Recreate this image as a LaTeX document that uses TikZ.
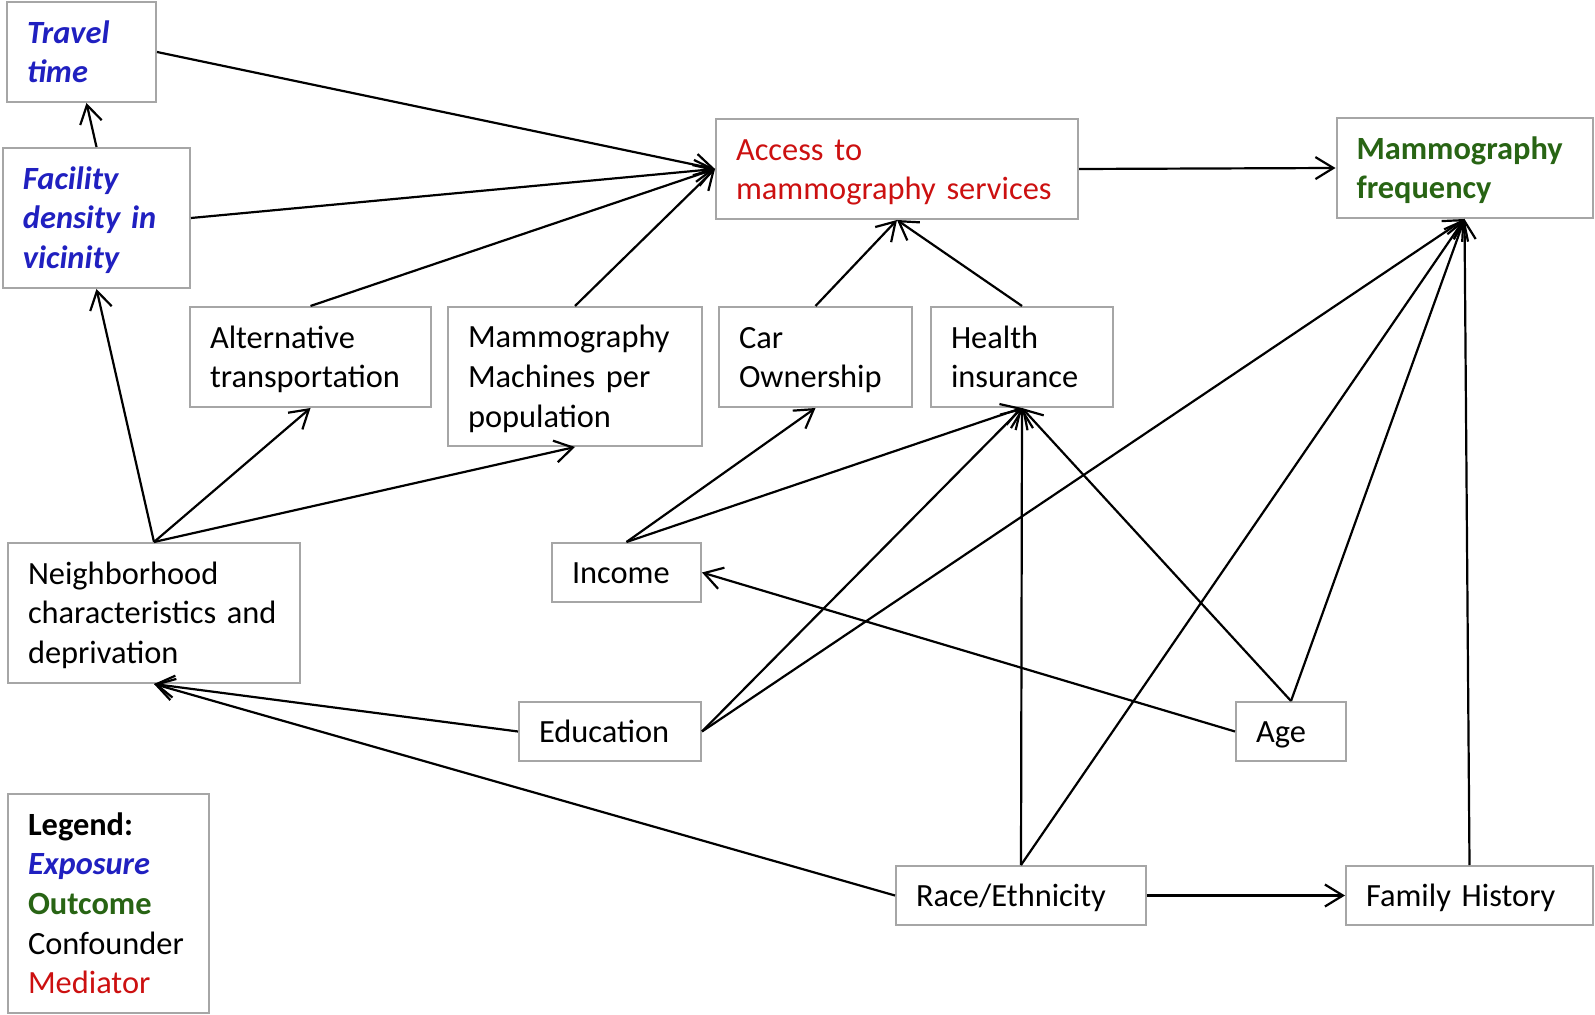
\documentclass[tikz,border=0pt]{standalone}
\usepackage{fontspec}
\setmainfont{Carlito}
\definecolor{dag_exposure}{RGB}{32, 32, 192}
\definecolor{dag_outcome}{RGB}{40, 100, 20}
\definecolor{dag_mediator}{RGB}{204, 16, 16}
\definecolor{dag_frame}{RGB}{166, 166, 166}
\newcommand{\dagstrut}{\rule[-4.4pt]{0pt}{19.8pt}}
\usepackage{tikz}
\usetikzlibrary{arrows.meta}

\begin{document}
\begin{tikzpicture}[x=0.5pt, y=-0.5pt, font=\fontsize{16.2}{19.8}\selectfont,
        box/.style={draw=dag_frame, line width=1pt, align=left,
                    inner xsep=10pt, inner ysep=0pt,
                    execute at begin node=\dagstrut, execute at end node=\dagstrut},
        arr/.style={-{Straight Barb[length=9pt, width=11pt]}, line width=1.1pt},
        expo/.style={text=dag_exposure, font=\fontsize{16.2}{19.8}\selectfont\bfseries\itshape}]
        \useasboundingbox (0, 0) rectangle (1595, 1015);
        % Exposures
        \node[box, expo, text width=54.5pt, minimum height=50pt] (trav)
          at (81.5, 52) {Travel\\time};
        \node[box, expo, text width=73.5pt, minimum height=70pt] (fac)
          at (96.5, 218) {Facility\\density~in\\vicinity};
        % Mediator and outcome
        \node[box, text=dag_mediator, text width=161pt, minimum height=50pt] (acc)
          at (897, 169) {Access~to\\mammography~services};
        \node[box, text=dag_outcome, font=\fontsize{16.2}{19.8}\selectfont\bfseries,
          text width=108pt, minimum height=50pt] (freq)
          at (1464.5, 168) {Mammography\\frequency};
        % Middle row
        \node[box, text width=100.5pt, minimum height=50pt] (alt)
          at (310.5, 357) {Alternative\\transportation};
        \node[box, text width=107pt, minimum height=69.5pt] (mach)
          at (575, 376.5) {Mammography\\Machines~per\\population};
        \node[box, text width=76.5pt, minimum height=50pt] (car)
          at (815.5, 357) {Car\\Ownership};
        \node[box, text width=71pt, minimum height=50pt] (ins)
          at (1022, 357) {Health\\insurance};
        % Confounders
        \node[box, text width=126pt, minimum height=70pt] (nbh)
          at (154, 613) {Neighborhood\\characteristics~and\\deprivation};
        \node[box, text width=54.5pt, minimum height=29.5pt] (inc)
          at (626.5, 572.5) {Income};
        \node[box, text width=71pt, minimum height=29.5pt] (edu)
          at (610, 731.5) {Education};
        \node[box, text width=35pt, minimum height=29.5pt] (age)
          at (1291, 731.5) {Age};
        \node[box, text width=105pt, minimum height=29.5pt] (race)
          at (1021, 895.5) {Race/Ethnicity};
        \node[box, text width=103.5pt, minimum height=29.5pt] (fam)
          at (1469.5, 895.5) {Family~History};
        % Legend
        \node[box, text width=80.5pt, minimum height=109.5pt] (leg)
          at (108.5, 903.5) {\textbf{Legend:}\\
          {\color{dag_exposure}\bfseries\itshape Exposure}\\
          {\color{dag_outcome}\bfseries Outcome}\\
          Confounder\\
          {\color{dag_mediator}Mediator}};
        % Arrows into access
        \draw[arr] (trav.east) -- (acc.west);
        \draw[arr] (fac.east) -- (acc.west);
        \draw[arr] (alt.north) -- (acc.west);
        \draw[arr] (mach.north) -- (acc.west);
        \draw[arr] (car.north) -- (acc.south);
        \draw[arr] (ins.north) -- (acc.south);
        \draw[arr] (acc.east) -- (freq.west);
        \draw[arr] (fac.north) -- ([xshift=2.5pt]trav.south);
        % From neighborhood
        \draw[arr] (nbh.north) -- (fac.south);
        \draw[arr] (nbh.north) -- (alt.south);
        \draw[arr] (nbh.north) -- (mach.south);
        % Income, education
        \draw[arr] (inc.north) -- (car.south);
        \draw[arr] (inc.north) -- (ins.south);
        \draw[arr] (edu.east) -- (ins.south);
        \draw[arr] (edu.east) -- (freq.south);
        \draw[arr] (edu.west) -- (nbh.south);
        % Race, age, family
        \draw[arr] (race.west) -- (nbh.south);
        \draw[arr] (race.north) -- (ins.south);
        \draw[arr] (race.north) -- (freq.south);
        \draw[arr] (race.east) -- (fam.west);
        \draw[arr] (age.west) -- (inc.east);
        \draw[arr] (age.north) -- (ins.south);
        \draw[arr] (age.north) -- (freq.south);
        \draw[arr] (fam.north) -- (freq.south);
      \end{tikzpicture}
\end{document}
